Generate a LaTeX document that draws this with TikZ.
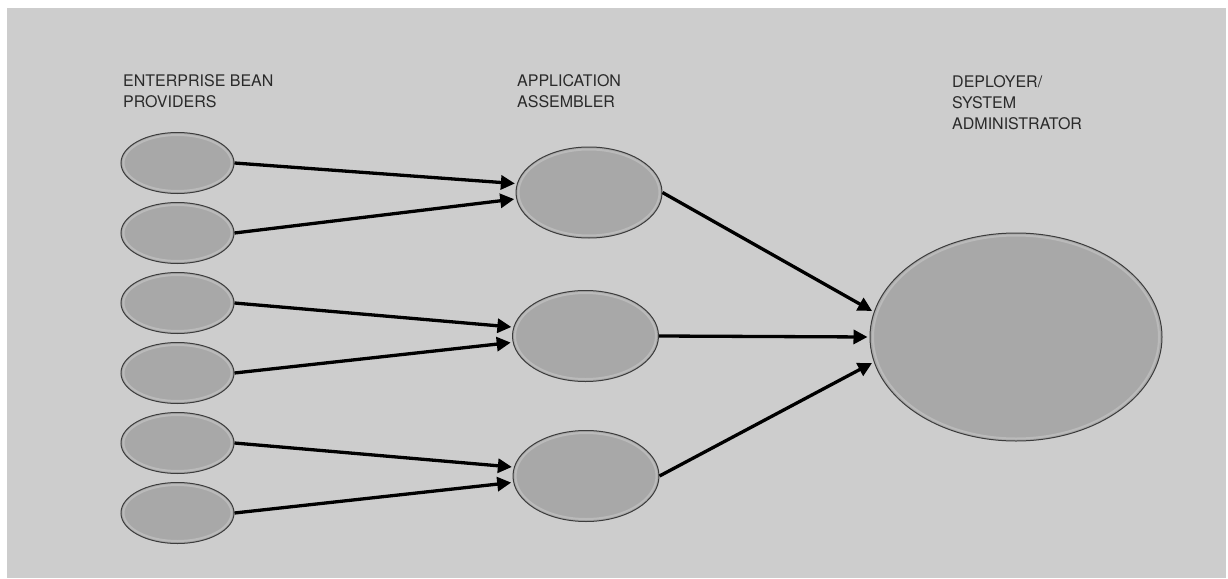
\documentclass[tikz,border=0pt]{standalone}
\usepackage{fontspec}
\setmainfont{TeX Gyre Heros}
\usetikzlibrary{shapes.geometric,arrows.meta}
\definecolor{bgpaper}{HTML}{FFFFFF}
\definecolor{bggray}{HTML}{CDCDCD}
\definecolor{ellfill}{HTML}{A8A8A8}
\definecolor{ellrim}{HTML}{C2C2C2}
\definecolor{ellline}{HTML}{3C3C3C}
\definecolor{txtcol}{HTML}{2A2A2A}
\tikzset{
  ellbase/.style={ellipse, draw=ellline, line width=1pt, fill=ellfill, inner sep=0pt},
  rim/.style 2 args={path picture={\draw[ellrim, line width=2pt, opacity=0.7]
      (path picture bounding box.center) ellipse [x radius=#1, y radius=#2];}},
  bean/.style={ellbase, minimum width=113pt, minimum height=61pt, rim={54pt}{28pt}},
  asm/.style={ellbase, minimum width=146pt, minimum height=91pt, rim={70.5pt}{43pt}},
  dep/.style={ellbase, minimum width=292pt, minimum height=208pt, rim={143pt}{101.5pt}},
  lbl/.style={anchor=north west, inner sep=0pt, align=left, text=txtcol,
              font=\fontsize{16}{21.3}\selectfont},
  conn/.style={line width=3.3pt, black, -{Triangle[length=14pt,width=14pt]}, shorten >=2pt}
}
\begin{document}
\begin{tikzpicture}[x=1pt,y=-1pt]
\useasboundingbox (0,0) rectangle (1228,578);
\fill[bgpaper] (0,0) rectangle (1228,578);
\fill[bggray] (7,8) rectangle (1226,578);

\node[lbl] (t1) at (123,74) {ENTERPRISE BEAN\\PROVIDERS};
\node[lbl] (t2) at (517,74) {APPLICATION\\ASSEMBLER};
\node[lbl] (t3) at (952,75) {DEPLOYER/\\SYSTEM\\ADMINISTRATOR};

\node[bean] (b1) at (177.5,163) {};
\node[bean] (b2) at (177.5,233) {};
\node[bean] (b3) at (177.5,303) {};
\node[bean] (b4) at (177.5,373) {};
\node[bean] (b5) at (177.5,443) {};
\node[bean] (b6) at (177.5,513) {};

\node[asm] (m1) at (589,192.5) {};
\node[asm] (m2) at (585.5,336) {};
\node[asm] (m3) at (586,476) {};

\node[dep] (d) at (1016,337) {};

\draw[conn] (b1.east) -- (m1.173);
\draw[conn] (b2.east) -- (m1.185);
\draw[conn] (b3.east) -- (m2.173);
\draw[conn] (b4.east) -- (m2.185);
\draw[conn] (b5.east) -- (m3.173);
\draw[conn] (b6.east) -- (m3.185);

\draw[conn] (m1.east) -- (d.170);
\draw[conn] (m2.east) -- (d.west);
\draw[conn] (m3.east) -- (d.190);
\end{tikzpicture}
\end{document}
